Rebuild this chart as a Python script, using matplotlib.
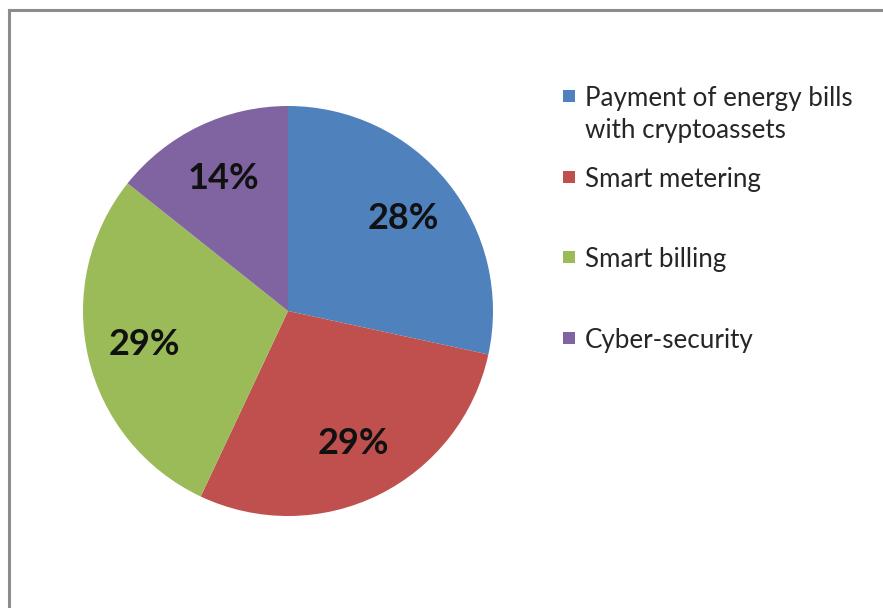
import numpy as np
import matplotlib.pyplot as plt
from matplotlib.patches import Rectangle
from matplotlib.lines import Line2D

# Data
categories = ['Payment of energy bills\nwith cryptoassets', 'Smart metering',
              'Smart billing', 'Cyber-security']
shares = [28.4, 28.6, 28.7, 14.3]
pct_labels = ['28%', '29%', '29%', '14%']
colors = ['#4f81bd', '#c0504d', '#9bbb59', '#8064a2']

plt.rcParams['font.family'] = ['Lato', 'DejaVu Sans']

W, H = 883, 608
fig = plt.figure(figsize=(W / 100, H / 100), dpi=100)

# frame (only top and left visible)
fig.add_artist(Line2D([8.5 / W, 1], [1 - 9.5 / H, 1 - 9.5 / H], color='#8c8c8c', lw=2.2))
fig.add_artist(Line2D([8.5 / W, 8.5 / W], [0, 1 - 9.5 / H], color='#8c8c8c', lw=2.2))

# pie
cx, cy, r = 288, 311, 205
ax = fig.add_axes([(cx - r) / W, (H - cy - r) / H, 2 * r / W, 2 * r / H])
wedges, _ = ax.pie(shares, colors=colors, startangle=90, counterclock=False,
                   radius=1, wedgeprops=dict(linewidth=0))
for w, lab in zip(wedges, pct_labels):
    ang = np.deg2rad((w.theta1 + w.theta2) / 2)
    ax.text(0.72 * np.cos(ang), 0.72 * np.sin(ang), lab, ha='center', va='center',
            fontsize=26, fontweight='bold', color='#111111')
ax.set_xlim(-1, 1)
ax.set_ylim(-1, 1)
ax.set_aspect('equal')
ax.axis('off')

# legend (manual)
row_y = [96, 177, 257, 338]
for y, lab, c in zip(row_y, categories, colors):
    fig.add_artist(Rectangle((563 / W, 1 - (y + 6) / H), 12 / W, 12 / H,
                             facecolor=c, edgecolor='none'))
    for k, line in enumerate(lab.split('\n')):
        fig.text(585 / W, 1 - (y + 10 + 32 * k) / H, line, ha='left', va='baseline',
                 fontsize=18.7, color='#262626')

fig.savefig('out.png', dpi=100, facecolor='white')
